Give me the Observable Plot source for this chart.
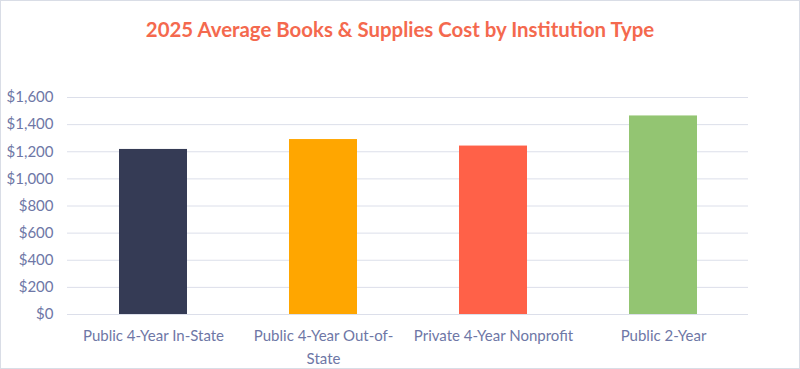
<!DOCTYPE html>
<html>
<head>
<meta charset="utf-8">
<script src="https://cdn.jsdelivr.net/npm/d3@7"></script>
<script src="https://cdn.jsdelivr.net/npm/@observablehq/plot@0.6"></script>
<style>
  html, body { margin: 0; padding: 0; background: #fff; }
  #chart {
    width: 800px; height: 369px; box-sizing: border-box;
    border: 1px solid #d9dde6; background: #fff; overflow: hidden;
  }
  #title {
    height: 59px; line-height: 56px; text-align: center;
    font-family: Lato, "Open Sans", sans-serif; font-weight: bold;
    font-size: 20.4px; color: #f4694e;
  }
  svg { display: block; }
</style>
</head>
<body>
<div id="chart">
  <div id="title">2025 Average Books &amp; Supplies Cost by Institution Type</div>
</div>
<script>
const categories = ["Public 4-Year In-State", "Public 4-Year Out-of-State", "Private 4-Year Nonprofit", "Public 2-Year"];
const tickLabels = ["Public 4-Year In-State", "Public 4-Year Out-of-\nState", "Private 4-Year Nonprofit", "Public 2-Year"];
const costs = [1217, 1290, 1242, 1464];
const barColors = ["#353b55", "#ffa600", "#ff6148", "#93c572"];
const yTicks = [0, 200, 400, 600, 800, 1000, 1200, 1400, 1600];

const data = categories.map((c, i) => ({category: c, cost: costs[i], color: barColors[i]}));
const labelOf = new Map(categories.map((c, i) => [c, tickLabels[i]]));

const axisColor = "#6e77a6";
const gridColor = "#dcdfea";
const font = "Lato, 'Open Sans', sans-serif";

const chart = Plot.plot({
  width: 798,
  height: 308,
  marginTop: 37,
  marginBottom: 54,
  marginLeft: 66,
  marginRight: 51,
  style: {fontFamily: font, fontSize: "15px", color: axisColor, background: "#fff"},
  x: {domain: categories, paddingInner: 0.6, paddingOuter: 0.3, label: null},
  y: {domain: [0, 1600], label: null},
  marks: [
    Plot.ruleY(yTicks, {stroke: gridColor, strokeWidth: 1}),
    Plot.barY(data, {x: "category", y: "cost", fill: "color"}),
    Plot.axisY({
      ticks: yTicks, tickSize: 0, tickPadding: 14, label: null,
      tickFormat: d => "$" + d3.format(",")(d), fill: axisColor, fontSize: 15
    }),
    Plot.axisX({
      tickSize: 0, tickPadding: 11, label: null, lineHeight: 1.5,
      tickFormat: d => labelOf.get(d), fill: axisColor, fontSize: 15
    })
  ]
});
document.getElementById("chart").appendChild(chart);
</script>
</body>
</html>
